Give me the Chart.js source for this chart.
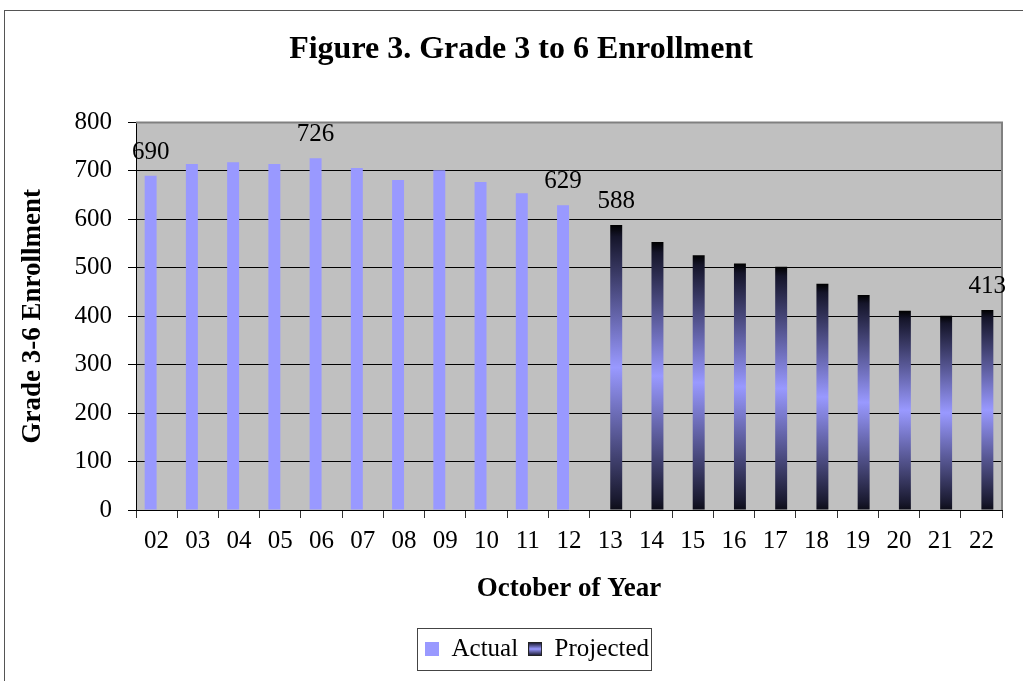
<!DOCTYPE html>
<html>
<head>
<meta charset="utf-8">
<title>Figure 3. Grade 3 to 6 Enrollment</title>
<script src="https://cdn.jsdelivr.net/npm/chart.js@4.4.0/dist/chart.umd.min.js"></script>
<style>
  html, body { margin: 0; padding: 0; background: #fff; overflow: hidden; }
  #wrap { position: relative; width: 1023px; height: 681px; }
  #frame { position: absolute; left: 4px; top: 10px; width: 1100px; height: 800px; border: 1px solid #555; box-sizing: border-box; }
  #enrollChart { position: absolute; left: 0; top: 0; }
</style>
</head>
<body>
<div id="wrap">
  <div id="frame"></div>
  <canvas id="enrollChart" width="1023" height="681"></canvas>
</div>
<script>
// data
const years = ['02', '03', '04', '05', '06', '07', '08', '09', '10', '11', '12',
               '13', '14', '15', '16', '17', '18', '19', '20', '21', '22'];
const actual = [690, 714, 718, 714, 726, 706, 681, 701, 677, 654, 629,
                null, null, null, null, null, null, null, null, null, null];
const projected = [null, null, null, null, null, null, null, null, null, null, null,
                   588, 553, 526, 509, 502, 467, 444, 411, 401, 413];
const labeledYears = ['02', '06', '12', '13', '22'];

const ACTUAL_BLUE = '#9999ff';

Chart.defaults.font.family = '"Liberation Serif", "Times New Roman", serif';
Chart.defaults.color = '#000';

// vertical dark -> light -> dark fill used by the projected bars
function projGradient(g, top, bottom) {
  const grad = g.createLinearGradient(0, top, 0, bottom);
  grad.addColorStop(0, '#000000');
  grad.addColorStop(0.04, '#15152a');
  grad.addColorStop(0.5, ACTUAL_BLUE);
  grad.addColorStop(0.96, '#1a1a30');
  grad.addColorStop(1, '#0d0d18');
  return grad;
}

function projFill(context) {
  const chart = context.chart;
  if (!chart.chartArea || context.type !== 'data' || context.raw == null) return '#333366';
  const y = chart.scales.y;
  return projGradient(chart.ctx, y.getPixelForValue(context.raw), y.getPixelForValue(0));
}

// legend swatches
function makeSwatch(kind) {
  const c = document.createElement('canvas');
  c.width = 14; c.height = 14;
  const g = c.getContext('2d');
  if (kind === 'actual') {
    g.fillStyle = ACTUAL_BLUE;
    g.fillRect(0, 0, 14, 14);
  } else {
    g.fillStyle = projGradient(g, 0, 14);
    g.fillRect(0, 0, 14, 14);
    g.strokeStyle = '#222';
    g.strokeRect(0.5, 0.5, 13, 13);
  }
  return c;
}
const swatches = [makeSwatch('actual'), makeSwatch('projected')];

const chartDecor = {
  id: 'chartDecor',
  afterLayout(chart) {
    // the title and legend sit a bit right of centre in the original
    chart.titleBlock.left += 20; chart.titleBlock.right += 20;
    chart.legend.left += 36; chart.legend.right += 36;
  },
  beforeDraw(chart) {
    const {ctx, chartArea: a} = chart;
    ctx.save();
    ctx.fillStyle = '#c0c0c0';
    ctx.fillRect(a.left, a.top, a.right - a.left, a.bottom - a.top);
    ctx.restore();
  },
  afterDatasetsDraw(chart) {
    const {ctx, chartArea: a} = chart;
    ctx.save();
    // grey top / right edge of plot
    ctx.strokeStyle = '#808080';
    ctx.lineWidth = 2;
    ctx.beginPath();
    ctx.moveTo(a.left, a.top);
    ctx.lineTo(a.right, a.top);
    ctx.lineTo(a.right, a.bottom);
    ctx.stroke();
    // value labels
    ctx.fillStyle = '#000';
    ctx.font = '25px "Liberation Serif", serif';
    ctx.textAlign = 'center';
    ctx.textBaseline = 'alphabetic';
    chart.data.datasets.forEach((ds, di) => {
      const meta = chart.getDatasetMeta(di);
      meta.data.forEach((bar, i) => {
        if (ds.data[i] == null || !labeledYears.includes(years[i])) return;
        ctx.fillText(String(ds.data[i]), bar.x, bar.y - 17);
      });
    });
    ctx.restore();
  },
  afterDraw(chart) {
    const hb = chart.legend.legendHitBoxes;
    if (!hb || !hb.length) return;
    const ctx = chart.ctx;
    const last = hb[hb.length - 1];
    const cy = hb[0].top + hb[0].height / 2;
    ctx.save();
    ctx.strokeStyle = '#444';
    ctx.lineWidth = 1;
    ctx.strokeRect(Math.round(hb[0].left - 8) + 0.5, Math.round(cy - 21) + 0.5,
                   Math.round(last.left + last.width - hb[0].left + 10), 42);
    ctx.restore();
  }
};

new Chart(document.getElementById('enrollChart'), {
  type: 'bar',
  data: {
    labels: years,
    datasets: [
      { label: 'Actual', data: actual, backgroundColor: ACTUAL_BLUE,
        categoryPercentage: 0.58, barPercentage: 1 },
      { label: 'Projected', data: projected, backgroundColor: projFill,
        categoryPercentage: 0.58, barPercentage: 1 }
    ]
  },
  options: {
    responsive: false,
    animation: false,
    events: [],
    layout: { padding: { left: 0, right: 21, top: 0, bottom: 9.5 } },
    plugins: {
      title: {
        display: true,
        text: 'Figure 3. Grade 3 to 6 Enrollment',
        font: { size: 32, weight: 'bold' },
        color: '#000',
        padding: { top: 31, bottom: 53 }
      },
      legend: {
        position: 'bottom',
        labels: {
          usePointStyle: true,
          boxWidth: 14,
          boxHeight: 14,
          padding: 10,
          font: { size: 25 },
          color: '#000',
          generateLabels: chart => Chart.defaults.plugins.legend.labels.generateLabels(chart)
            .map((item, i) => ({ ...item, pointStyle: swatches[i] }))
        }
      },
      tooltip: { enabled: false }
    },
    scales: {
      x: {
        grid: { drawOnChartArea: false, offset: true, tickLength: 8, color: '#333' },
        border: { color: '#000' },
        ticks: { font: { size: 25 }, color: '#000', padding: 8.5, maxRotation: 0, autoSkip: false },
        title: {
          display: true, text: 'October of Year',
          font: { size: 27, weight: 'bold' }, color: '#000',
          padding: { top: 0, bottom: 21 }
        },
        afterFit: s => { s.height = 116.5; }
      },
      y: {
        min: 0, max: 800,
        ticks: { stepSize: 100, font: { size: 25 }, color: '#000', padding: 16 },
        grid: { color: '#000', tickLength: 8 },
        border: { color: '#000' },
        title: {
          display: true, text: 'Grade 3-6 Enrollment',
          font: { size: 27, weight: 'bold' }, color: '#000',
          padding: { top: 17, bottom: 0 }
        },
        afterFit: s => { s.width = 136; }
      }
    }
  },
  plugins: [chartDecor]
});
</script>
</body>
</html>
